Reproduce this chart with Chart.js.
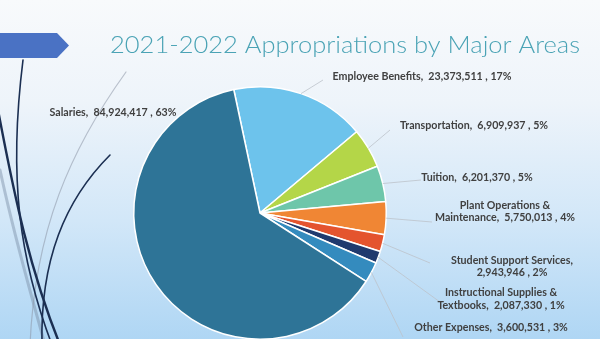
<!DOCTYPE html>
<html><head><meta charset="utf-8">
<script src="https://cdn.jsdelivr.net/npm/chart.js@4.4.1/dist/chart.umd.min.js"></script>
<style>html,body{margin:0;padding:0;overflow:hidden;width:600px;height:339px;background:#fff}
#wrap{position:relative;width:600px;height:360px}</style></head>
<body><div id="wrap"><canvas id="c" width="600" height="360"></canvas></div>
<script>
const titleText = '2021-2022 Appropriations by Major Areas';
const categories = ['Employee Benefits','Transportation','Tuition','Plant Operations & Maintenance','Student Support Services','Instructional Supplies & Textbooks','Other Expenses','Salaries'];
const values = [23373511, 6909937, 6201370, 5750013, 2943946, 2087330, 3600531, 84924417];
const percentLabels = ['17%','5%','5%','4%','2%','1%','3%','63%'];
const firstLines = [null, null, null, 'Plant Operations &', 'Student Support Services,', 'Instructional Supplies &', null, null];
const colors = ['#6DC3EC','#B4D648','#6EC6AA','#F08634','#E4542E','#203A6E','#348BBE','#2E7497'];

// label placement (layout only)
const labelLayout = [
  {cx:422, y:[77], end:[323,80]},
  {cx:474, y:[126], end:[390,130]},
  {cx:477, y:[178], end:[421,180]},
  {cx:505, y:[206,218], end:[432,222]},
  {cx:512, y:[261,273], end:[430,263]},
  {cx:501, y:[293,306], end:[440,302]},
  {cx:491, y:[328], end:[403,337]},
  {cx:113, y:[113], end:null}
];

function labelLines(i){
  const full = categories[i] + ',  ' + values[i].toLocaleString('en-US') + ' , ' + percentLabels[i];
  if (firstLines[i]) {
    return [firstLines[i], full.slice(firstLines[i].length).trim()];
  }
  return [full];
}

function bez(ctx, pts, w, col){
  ctx.beginPath();
  ctx.moveTo(pts[0][0], pts[0][1]);
  ctx.bezierCurveTo(pts[1][0],pts[1][1],pts[2][0],pts[2][1],pts[3][0],pts[3][1]);
  ctx.lineWidth = w; ctx.strokeStyle = col; ctx.stroke();
}

const bgPlugin = {
  id:'bg',
  beforeDraw(chart){
    const ctx = chart.ctx;
    ctx.save();
    const g = ctx.createLinearGradient(0,0,0,339);
    g.addColorStop(0,'#F8FAFC');
    g.addColorStop(0.3,'#EEF4FA');
    g.addColorStop(0.65,'#D2E7F8');
    g.addColorStop(1,'#AFD6F4');
    ctx.fillStyle = g;
    ctx.fillRect(0,0,600,360);
    // decorative wisps
    ctx.lineCap='round';
    bez(ctx, [[0,170],[15,240],[30,290],[45,345]], 3, 'rgba(120,140,165,0.45)');
    bez(ctx, [[126,72],[70,150],[35,230],[30,345]], 1.2, 'rgba(140,150,165,0.55)');
    bez(ctx, [[23,60],[8,180],[20,260],[52,345]], 1.6, '#1B2F52');
    bez(ctx, [[-2,110],[15,200],[30,270],[60,345]], 2.4, '#1B2F52');
    bez(ctx, [[110,155],[65,200],[40,260],[42,345]], 1.6, '#1B2F52');
    // arrow shape
    ctx.beginPath();
    ctx.moveTo(0,33); ctx.lineTo(57,33); ctx.lineTo(69,45.5); ctx.lineTo(57,58); ctx.lineTo(0,58); ctx.closePath();
    ctx.fillStyle='#4A72C4'; ctx.fill();
    // title
    ctx.font = '300 23px Lato, "Open Sans", sans-serif';
    const tw = ctx.measureText(titleText).width;
    const sx = 470 / tw;
    ctx.translate(110, 53);
    ctx.scale(sx, 1);
    ctx.fillStyle = '#4AA3B5';
    ctx.textBaseline = 'alphabetic';
    ctx.textAlign = 'left';
    ctx.fillText(titleText, 0, 0);
    ctx.restore();
  }
};

const labelPlugin = {
  id:'lbl',
  afterDatasetsDraw(chart){
    const ctx = chart.ctx;
    const meta = chart.getDatasetMeta(0);
    ctx.save();
    // fit font size to reference width of first label
    ctx.font = 'bold 10px Lato, sans-serif';
    const w0 = ctx.measureText(labelLines(0)[0]).width;
    const fs = 10 * 179 / w0;
    meta.data.forEach((arc, i) => {
      const L = labelLayout[i];
      const p = arc.getProps(['x','y','startAngle','endAngle','outerRadius'], true);
      const mid = (p.startAngle + p.endAngle) / 2;
      if (L.end) {
        const sx = p.x + Math.cos(mid) * p.outerRadius;
        const sy = p.y + Math.sin(mid) * p.outerRadius;
        ctx.beginPath();
        ctx.moveTo(sx, sy);
        ctx.lineTo(L.end[0], L.end[1]);
        ctx.lineWidth = 0.8;
        ctx.strokeStyle = '#BCC3CA';
        ctx.stroke();
      }
      ctx.font = 'bold ' + fs.toFixed(2) + 'px Lato, sans-serif';
      ctx.fillStyle = '#404040';
      ctx.textAlign = 'center';
      ctx.textBaseline = 'middle';
      labelLines(i).forEach((t, k) => ctx.fillText(t, L.cx, L.y[k]));
    });
    ctx.restore();
  }
};

new Chart(document.getElementById('c'), {
  type:'pie',
  data:{labels:categories, datasets:[{data:values, backgroundColor:colors, borderColor:'#FFFFFF', borderWidth:1.5}]},
  options:{
    responsive:false, animation:false, rotation:-12,
    layout:{padding:{left:0,right:80,top:86,bottom:20}},
    plugins:{legend:{display:false}, tooltip:{enabled:false}, title:{display:false}}
  },
  plugins:[bgPlugin, labelPlugin]
});
</script></body></html>
